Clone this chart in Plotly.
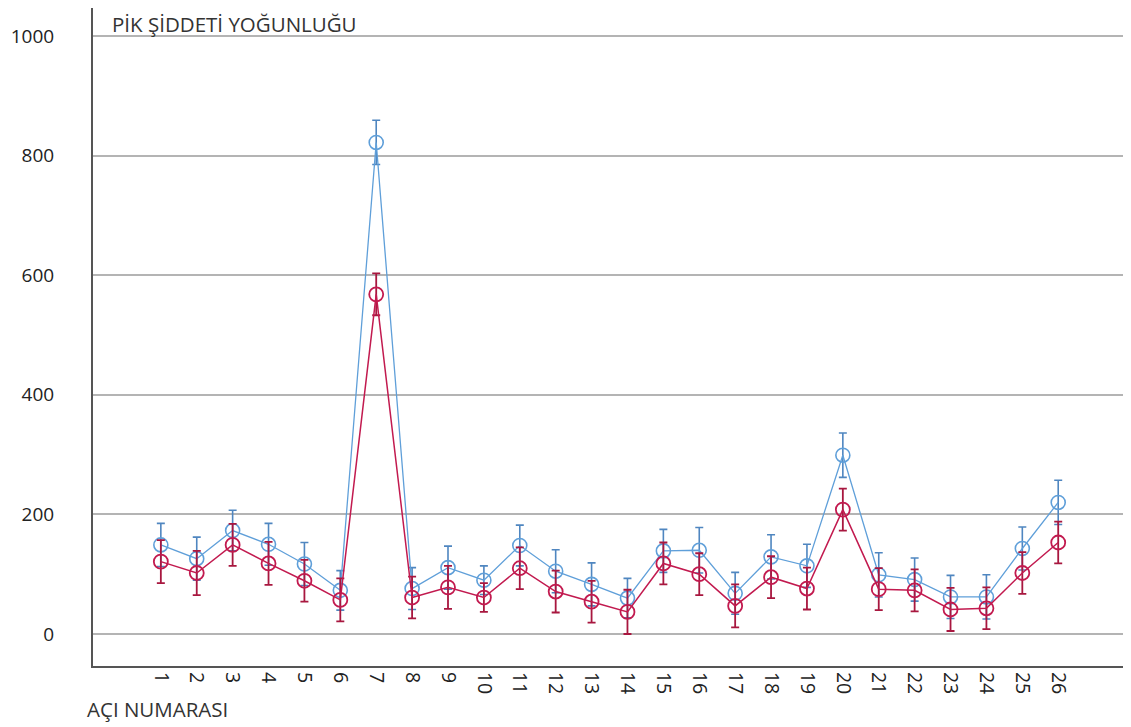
import plotly.graph_objects as go

angles = list(range(1, 27))
tick_labels = [str(a) for a in angles]
blue_mean = [149, 126, 173, 150, 117, 73, 822, 76, 111, 90, 148, 105, 83, 60, 139, 140, 68, 129, 114, 299, 99, 91, 62, 62, 143, 220]
blue_err = [36, 36, 34, 35, 36, 33, 37, 35, 36, 24, 34, 36, 36, 33, 36, 38, 35, 37, 36, 37, 37, 36, 36, 37, 36, 37]
red_mean = [121, 102, 149, 118, 89, 57, 568, 61, 78, 61, 110, 71, 54, 37, 118, 100, 47, 95, 76, 208, 75, 73, 41, 43, 102, 153]
red_err = [36, 37, 35, 36, 35, 36, 35, 35, 36, 24, 35, 35, 35, 37, 35, 35, 36, 35, 35, 35, 35, 35, 36, 35, 35, 35]

BLUE = "#5f9fd9"
RED = "#c21a4f"
FONT = "Open Sans, DejaVu Sans, sans-serif"

fig = go.Figure()
fig.add_trace(go.Scatter(
    x=angles, y=blue_mean, mode="lines+markers",
    line=dict(color=BLUE, width=1.3),
    marker=dict(symbol="circle-open", size=14, color=BLUE, line=dict(width=1.6)),
    error_y=dict(type="data", array=blue_err, symmetric=True, color="#4f86c0", thickness=1.6, width=4),
    showlegend=False,
))
fig.add_trace(go.Scatter(
    x=angles, y=red_mean, mode="lines+markers",
    line=dict(color=RED, width=1.5),
    marker=dict(symbol="circle-open", size=14, color=RED, line=dict(width=1.8)),
    error_y=dict(type="data", array=red_err, symmetric=True, color="#a8173f", thickness=1.8, width=4),
    showlegend=False,
))

fig.update_layout(
    width=1123, height=719,
    margin=dict(l=85, r=1, t=0, b=61),
    paper_bgcolor="white", plot_bgcolor="white",
    font=dict(family=FONT, size=19, color="#222"),
    annotations=[
        dict(text="PİK ŞİDDETİ YOĞUNLUĞU", xref="paper", yref="paper", x=0.016, y=1.0,
             xanchor="left", yanchor="top", showarrow=False, font=dict(family=FONT, size=20.5, color="#333")),
        dict(text="AÇI NUMARASI", xref="paper", yref="paper", x=-0.008, y=-0.041,
             xanchor="left", yanchor="top", showarrow=False, font=dict(family=FONT, size=20.5, color="#333")),
    ],
)
fig.update_xaxes(
    range=[-0.89, 28.0], tickmode="array", tickvals=angles, ticktext=tick_labels,
    tickangle=90, showgrid=False, zeroline=False, showline=True, linecolor="#555", linewidth=2,
    ticks="", tickfont=dict(family=FONT, size=19.5, color="#222"), automargin=False,
)
fig.update_yaxes(
    range=[-53.5, 1046.8], tickvals=[0, 200, 400, 600, 800, 1000],
    showgrid=True, gridcolor="#b4b4b4", gridwidth=1.5, zeroline=False,
    showline=True, linecolor="#555", linewidth=2, ticks="", ticklabelstandoff=33,
    tickfont=dict(family=FONT, size=19, color="#222"), automargin=False,
)

fig.write_html("out.html")
